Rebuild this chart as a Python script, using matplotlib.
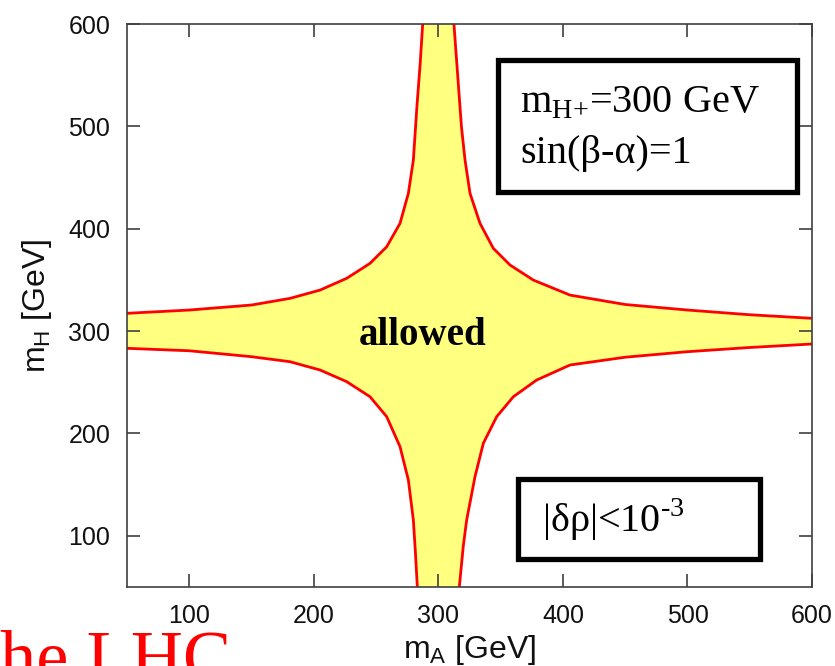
import numpy as np
import matplotlib.pyplot as plt
from matplotlib.patches import Rectangle

plt.rcParams['mathtext.fontset'] = 'custom'
plt.rcParams['mathtext.rm'] = 'Liberation Serif'
plt.rcParams['mathtext.sf'] = 'Liberation Sans'

# boundary of |delta rho| < 1e-3 region (mA, mH) in GeV
ul_mA = [50, 100, 150, 180.9, 205.0, 226.4, 245.1, 258.5, 269.2, 275.9, 279.9, 282.8, 285.3, 287.4]
ul_mH = [317.4, 320.6, 325.5, 332.0, 340.1, 351.6, 366.2, 382.4, 405.3, 434.6, 467.1, 520, 560, 600]

ur_mA = [312.5, 315.5, 318.5, 321.4, 325.4, 333.4, 344.1, 357.5, 376.2, 405.7, 450, 500, 550, 600]
ur_mH = [600, 550, 500, 467.1, 434.6, 405.3, 380.9, 364.6, 349.9, 335.2, 326.0, 320.6, 316.0, 312.5]

lr_mA = [600, 550, 500, 450, 405.7, 378.9, 360.2, 346.8, 336.1, 329.4, 322.7, 320.0, 316.8]
lr_mH = [287.4, 284.0, 279.9, 274.5, 266.9, 252.2, 235.9, 216.4, 190.4, 157.8, 115.4, 90, 50]

ll_mA = [283.1, 281.5, 279.9, 275.9, 269.2, 258.5, 245.1, 226.4, 205.0, 180.9, 150, 100, 50]
ll_mH = [50, 85, 115.4, 154.5, 187.1, 216.4, 235.9, 250.6, 262.0, 270.1, 275.0, 280.8, 283.2]

xticks = [100, 200, 300, 400, 500, 600]
yticks = [100, 200, 300, 400, 500, 600]

fig = plt.figure(figsize=(8.35, 6.66), dpi=100)
ax = fig.add_axes([0.1521, 0.1186, 0.8204, 0.8453])

# yellow allowed region
px = np.concatenate([ul_mA, ur_mA, lr_mA, ll_mA])
py = np.concatenate([ul_mH, ur_mH, lr_mH, ll_mH])
ax.fill(px, py, color='#ffff80', lw=0, zorder=1)

for xs, ys in [(ul_mA, ul_mH), (ur_mA, ur_mH), (lr_mA, lr_mH), (ll_mA, ll_mH)]:
    ax.plot(xs, ys, color='red', lw=2, zorder=2, solid_joinstyle='round')

ax.set_xlim(50, 600)
ax.set_ylim(50, 600)
ax.set_xticks(xticks)
ax.set_yticks(yticks)

gray = '#404040'
for s in ax.spines.values():
    s.set_color(gray)
    s.set_linewidth(1.2)
    s.set_zorder(5)
ax.tick_params(direction='in', length=9.5, width=1.2, color=gray,
               top=True, right=True, pad=12)
for lab in ax.get_xticklabels() + ax.get_yticklabels():
    lab.set_fontfamily('Liberation Sans')
    lab.set_fontsize(18)
    lab.set_color('#111111')

ax.set_xlabel(r'm$_{\mathsf{A}}$ [GeV]', fontfamily='Liberation Sans', fontsize=23,
              labelpad=4, color='#111111')
ax.set_ylabel(r'm$_{\mathsf{H}}$ [GeV]', fontfamily='Liberation Sans', fontsize=23,
              labelpad=10, color='#111111')

# boxes
ax.add_patch(Rectangle((0.5416, 0.7016), 0.4365, 0.2345, transform=ax.transAxes,
                       fc='white', ec='black', lw=3.8, zorder=6))
ax.add_patch(Rectangle((0.5708, 0.0497), 0.3533, 0.1421, transform=ax.transAxes,
                       fc='white', ec='black', lw=3.8, zorder=6))

ax.text(0.5737, 0.8437, r'm$_{\mathrm{H{+}}}$=300 GeV', transform=ax.transAxes,
        fontfamily='Liberation Serif', fontsize=29, va='baseline', zorder=7)
ax.text(0.5737, 0.7531, 'sin(β-α)=1', transform=ax.transAxes,
        fontfamily='Liberation Serif', fontsize=29, va='baseline', zorder=7)
ax.text(0.6058, 0.0977, r'|δρ|<10$^{\text{-3}}$', transform=ax.transAxes,
        fontfamily='Liberation Serif', fontsize=29, va='baseline', zorder=7)

ax.text(0.432, 0.4298, 'allowed', transform=ax.transAxes, ha='center', va='baseline',
        fontfamily='Liberation Serif', fontweight='bold', fontsize=28, zorder=7)

# leftover slide title text cut off at the bottom
fig.text(0.0, -0.021, 'he LHC', color='red', fontfamily='Liberation Serif',
         fontsize=52, ha='left', va='baseline')

fig.savefig('out.png', dpi=100)
